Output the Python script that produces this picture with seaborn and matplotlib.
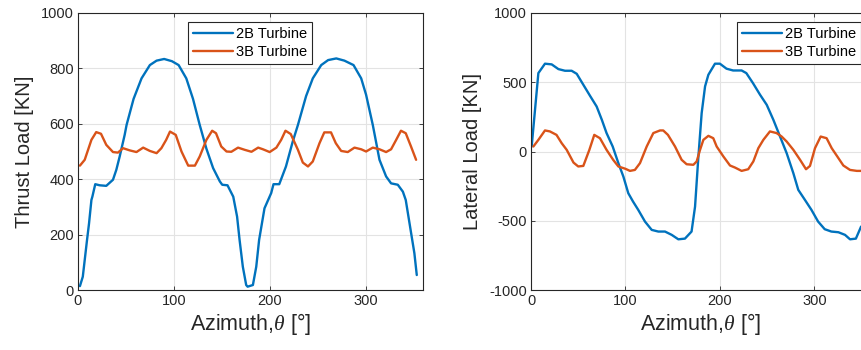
import numpy as np
import pandas as pd
import matplotlib
matplotlib.use("Agg")
import matplotlib.pyplot as plt
import seaborn as sns

# Thrust load vs azimuth [deg, kN]
thrust_2b_az = [2, 5, 9.4, 11.5, 14, 15, 18, 22.6, 29.5, 36.5, 40, 43.5, 48.7, 50.7, 58, 66.3, 75,
                82, 89.9, 98, 105, 113, 120, 127, 134, 141, 148, 150.5, 156, 162, 166, 168.6, 172,
                175.5, 177, 182.5, 186, 189, 194.6, 201.6, 204, 210, 217, 224, 229.5, 238, 245,
                253.8, 261, 269.5, 278, 287.5, 295.5, 300.6, 307.6, 314.6, 321.5, 326.7, 333.7,
                339, 342, 346.5, 351, 353.5]
thrust_2b = [14, 48, 180, 240, 325, 337, 382, 378, 376, 398, 434, 482, 560, 596, 690, 764, 812,
             828, 834, 826, 812, 764, 690, 596, 510, 440, 392, 380, 378, 337, 265, 181, 84,
             18, 12, 18, 84, 181, 295, 350, 382, 382, 446, 535, 596, 700, 764,
             812, 830, 836, 828, 812, 764, 705, 596, 470, 410, 385, 380,
             355, 325, 229, 133, 54]

thrust_3b_az = [2, 7, 14, 19, 24, 29.5, 36.5, 41.7, 47, 54, 61, 68, 75, 82, 87, 92, 96, 102, 108,
                115, 122, 127, 134, 140, 144, 149.5, 155, 160, 167, 174, 181, 188, 193, 200, 207,
                212, 216.5, 222, 229.5, 234.6, 240, 245, 252, 257, 264, 269, 274.6, 281.5, 288.5,
                295.5, 300.6, 307.6, 314.6, 321.5, 326.7, 332, 337, 342, 347.5, 352.8]
thrust_3b = [449, 470, 542, 570, 564, 524, 498, 496, 512, 504, 498, 514, 502, 494, 512, 542, 572, 560, 500,
             449, 449, 482, 542, 575, 566, 518, 500, 499, 514, 506, 499, 514, 508, 498, 514,
             542, 575, 563, 506, 460, 446, 464, 530, 569, 569, 530, 502, 498, 514,
             508, 500, 514, 508, 498, 508, 542, 575, 566, 518, 470]

# Lateral load vs azimuth [deg, kN]
lateral_2b_az = [0.7, 7.8, 14.8, 21.9, 29, 36, 43, 48.4, 55.4, 62.5, 69.5, 75, 80, 86.5, 92.5, 97.8,
                 103, 108, 113.6, 120.7, 127.8, 134.8, 141.9, 149, 156, 163, 170, 173.7, 177, 180.7,
                 184.3, 187.8, 194.8, 200, 207, 214, 223, 228, 235, 242.5, 249.6, 256.6, 263.7,
                 270.7, 277.8, 283, 290, 297, 304, 311, 318, 325.5, 332.5, 337.8, 344, 349.5]
lateral_2b = [36, 566, 634, 629, 595, 583, 583, 561, 482, 402, 325, 229, 133, 36, -84, -181,
              -301, -361, -422, -506, -566, -578, -578, -602, -634, -629, -578, -398, -60, 277,
              470, 554, 634, 634, 598, 585, 585, 566, 494, 410, 337, 229, 108,
              -12, -157, -277, -349, -422, -506, -561, -578, -583, -602, -634, -629, -542]

lateral_3b_az = [2.5, 7.8, 14.8, 20, 27, 32.5, 37.8, 45, 50, 55.4, 61.8, 67, 73, 80, 87, 92.5, 100,
                 104.8, 110, 115.4, 122.5, 129.5, 136.6, 140, 145, 152.5, 159.5, 164.8, 171.9, 175.4,
                 179, 182.5, 187.8, 193, 196.6, 203.7, 210.7, 216, 223, 230, 235.4, 240.7, 246, 253,
                 260, 265.4, 270.7, 277.8, 284.9, 291.2, 295.4, 300.7, 306.7, 313, 318.4, 325.5,
                 330.7, 337.8, 345, 349.5]
lateral_3b = [36, 84, 152, 145, 120, 60, 12, -80, -108, -104, 12, 120, 96, 12, -60, -108, -125,
              -140, -133, -84, 36, 133, 152, 152, 120, 36, -60, -92, -96, -72,
              12, 84, 113, 96, 36, -36, -101, -116, -140, -128, -72, 24, 84, 145,
              133, 108, 72, 12, -60, -128, -104, 24, 108, 96, 24, -48,
              -101, -133, -140, -140]

series_names = ["2B Turbine", "3B Turbine"]
colors = ["#0072BD", "#D95319"]


def long_frame(az_a, val_a, az_b, val_b):
    return pd.concat([
        pd.DataFrame({"azimuth": az_a, "load": val_a, "turbine": series_names[0]}),
        pd.DataFrame({"azimuth": az_b, "load": val_b, "turbine": series_names[1]}),
    ], ignore_index=True)


thrust_df = long_frame(thrust_2b_az, thrust_2b, thrust_3b_az, thrust_3b)
lateral_df = long_frame(lateral_2b_az, lateral_2b, lateral_3b_az, lateral_3b)

sns.set_theme(style="whitegrid")
plt.rcParams["font.family"] = ["Liberation Sans", "DejaVu Sans"]
plt.rcParams["mathtext.fontset"] = "custom"
plt.rcParams["mathtext.it"] = "Liberation Serif:italic"
plt.rcParams["axes.unicode_minus"] = False

W, H = 861, 350
fig = plt.figure(figsize=(W / 100, H / 100), dpi=100)
ax1 = fig.add_axes([78 / W, 60 / H, 345 / W, 277 / H])
ax2 = fig.add_axes([531 / W, 60 / H, 340 / W, 277 / H])

text_color = "#262626"
axis_color = "#262626"


def draw(ax, df, ylabel, ylim, yticks, legend_x):
    sns.lineplot(data=df, x="azimuth", y="load", hue="turbine", palette=colors,
                 linewidth=1.7, ax=ax, sort=False, estimator=None)
    ax.set_xlim(0, 360)
    ax.set_ylim(*ylim)
    ax.set_xticks([0, 100, 200, 300])
    ax.set_yticks(yticks)
    ax.set_facecolor("white")
    ax.grid(True, color="#e3e3e3", linewidth=0.8)
    for s in ax.spines.values():
        s.set_visible(True)
        s.set_color(axis_color)
        s.set_linewidth(0.8)
    ax.tick_params(direction="in", length=3, width=0.6, colors=axis_color,
                   labelcolor=text_color, labelsize=10.5, pad=3,
                   top=True, right=True, bottom=True, left=True)
    ax.set_xlabel(r"Azimuth,$\theta$ [°]", fontsize=15.5, color=text_color, labelpad=2)
    ax.set_ylabel(ylabel, fontsize=14.5, color=text_color, labelpad=5)
    handles, labels = ax.get_legend_handles_labels()
    leg = ax.legend(handles, labels, loc="upper right", bbox_to_anchor=(legend_x, 0.968),
                    fontsize=10.5, frameon=True, fancybox=False, framealpha=1,
                    edgecolor="#262626", handlelength=2.7, handletextpad=0.2,
                    borderpad=0.35, labelspacing=0.3, borderaxespad=0)
    leg.get_frame().set_linewidth(0.8)
    for t in leg.get_texts():
        t.set_color("black")


draw(ax1, thrust_df, "Thrust Load [KN]", (0, 1000), [0, 200, 400, 600, 800, 1000], 0.678)
draw(ax2, lateral_df, "Lateral Load [KN]", (-1000, 1000), [-1000, -500, 0, 500, 1000], 0.97)

fig.savefig("out.png", dpi=100)
